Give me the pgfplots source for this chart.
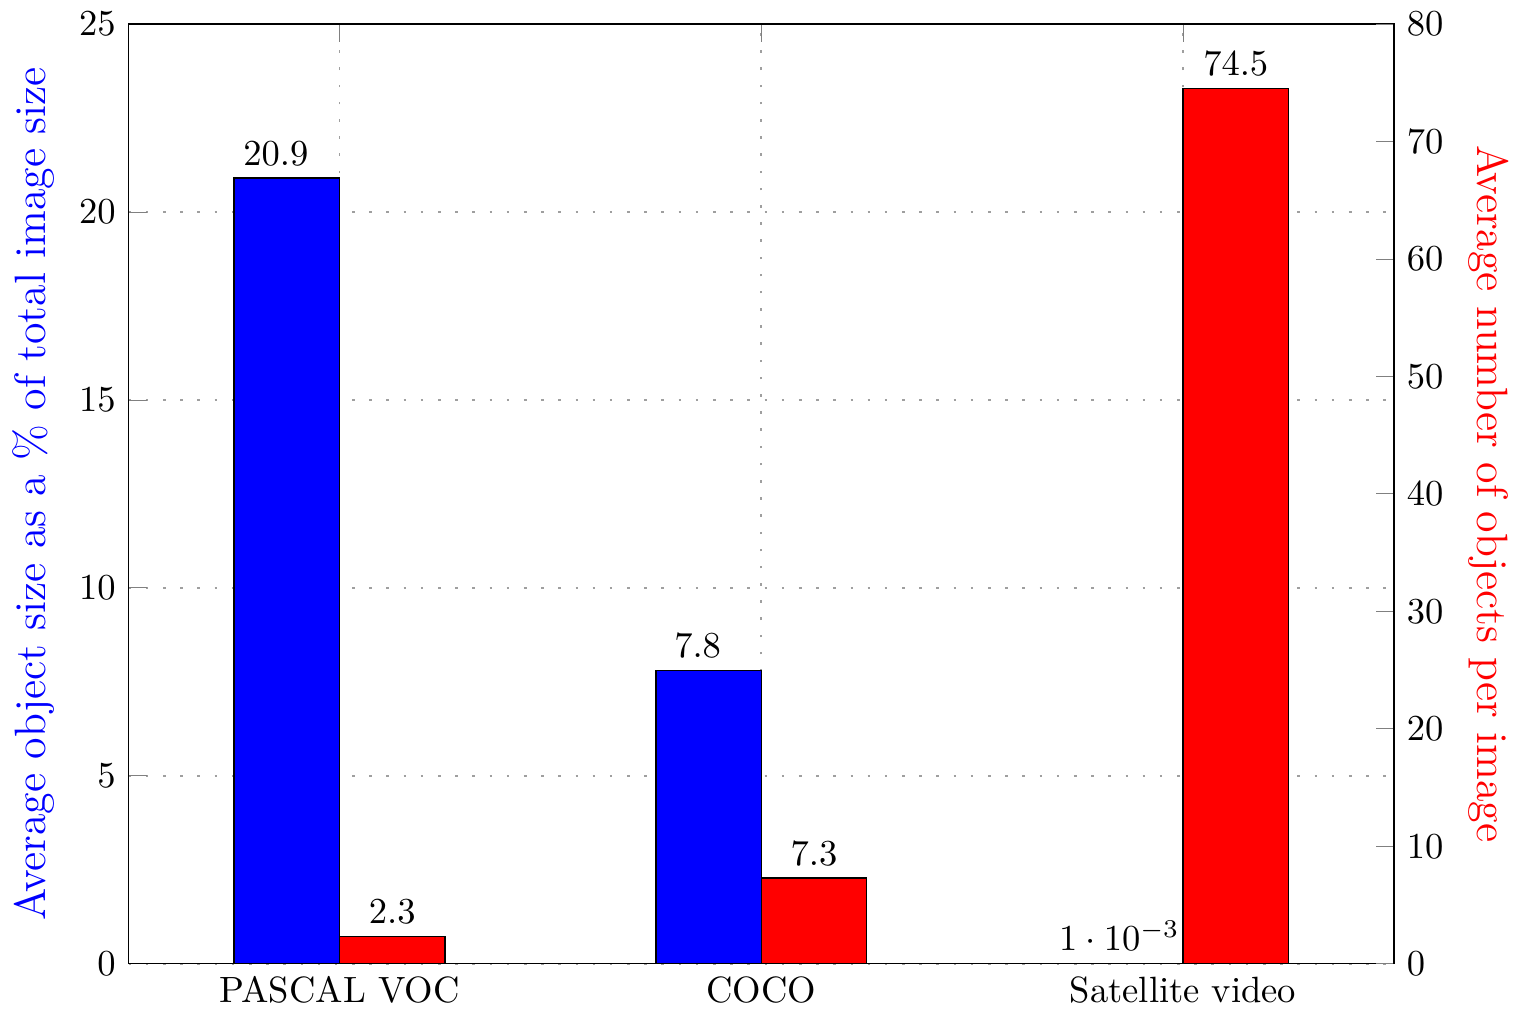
\documentclass[border=0pt]{standalone}
\usepackage{pgfplots}
\pgfplotsset{compat=1.18}
\begin{document}
\begin{tikzpicture}
\begin{axis}[
  scale only axis, width=346pt, height=257pt,
  ybar, bar width=0.25,
  xmin=-0.5, xmax=2.5, ymin=0, ymax=25,
  ytick pos=left,
  xtick={0,1,2}, xticklabels={PASCAL VOC, COCO, Satellite video},
  ytick={0,5,10,15,20,25},
  ylabel={\large Average object size as a \% of total image size},
  ylabel style={blue},
  ymajorgrids, xmajorgrids, grid style={dash pattern=on 0.7pt off 4pt, gray!75, line width=0.5pt},
  tick align=inside, major tick length=5pt,
  nodes near coords,
  every node near coord/.append style={xshift=-3pt},
]
\addplot[fill=blue, draw=black, bar shift=-0.125] coordinates {(0,20.9) (1,7.8) (2,0.001)};
\end{axis}
\begin{axis}[
  scale only axis, width=346pt, height=257pt,
  ybar, bar width=0.25,
  xmin=-0.5, xmax=2.5, ymin=0, ymax=80,
  hide x axis, ytick pos=right,
  ytick={0,10,20,30,40,50,60,70,80},
  ylabel={\large Average number of objects per image},
  ylabel style={red, rotate=180},
  tick align=inside, major tick length=5pt,
  nodes near coords,
]
\addplot[fill=red, draw=black, bar shift=0.125] coordinates {(0,2.3) (1,7.3) (2,74.5)};
\end{axis}
\end{tikzpicture}
\end{document}
